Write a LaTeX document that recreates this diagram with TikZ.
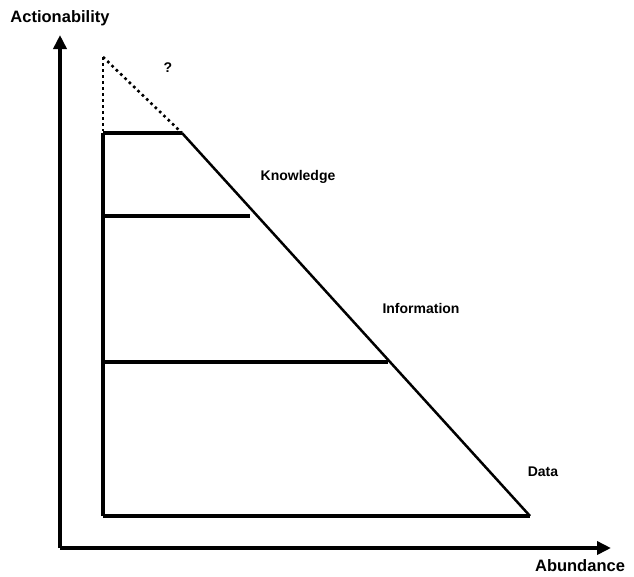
\documentclass[tikz,border=0pt]{standalone}
\usepackage{fontspec}
\setmainfont{Liberation Sans}
\usetikzlibrary{arrows.meta}
\begin{document}
\begin{tikzpicture}[x=1pt,y=-1pt,
  axis/.style={line width=3.6pt,-{Triangle[length=14pt,width=13pt]}},
  frame/.style={line width=4pt},
  level/.style={line width=3.2pt},
  slope/.style={line width=2.5pt},
  dots/.style={line width=2.6pt,dash pattern=on 2.6pt off 3.4pt},
  lbl/.style={font=\bfseries\fontsize{14}{16}\selectfont},
  axlbl/.style={font=\bfseries\fontsize{16.5}{19}\selectfont}]
\useasboundingbox (0,0) rectangle (634,576);
% axes
\coordinate (O) at (60,548);
\coordinate (Ytip) at (60,35);
\coordinate (Xtip) at (611,548);
\draw[axis] (O) -- (Ytip);
\draw[axis] (O) -- (Xtip);
% pyramid corners
\coordinate (TL) at (103,133);
\coordinate (TR) at (182,133);
\coordinate (BL) at (103,516);
\coordinate (BR) at (530,516);
\coordinate (K1) at (103,216);
\coordinate (K2) at (250,216);
\coordinate (I1) at (103,362);
\coordinate (I2) at (388,362);
\coordinate (Q) at (103,57);
\draw[frame] (TL) -- (BL);
\draw[level] (BL) -- (BR);
\draw[slope] (TR) -- (BR);
\draw[level] (TL) -- (TR);
\draw[level] (K1) -- (K2);
\draw[level] (I1) -- (I2);
\draw[dots] (Q) -- (103,131);
\draw[dots] (Q) -- (TR);
% labels
\node[lbl] (q) at (168,68) {?};
\node[lbl] (k) at (298,177) {Knowledge};
\node[lbl] (i) at (421,308) {Information};
\node[lbl] (d) at (543,472) {Data};
\node[axlbl] (a) at (60,18) {Actionability};
\node[axlbl] (b) at (580,566) {Abundance};
\end{tikzpicture}
\end{document}
